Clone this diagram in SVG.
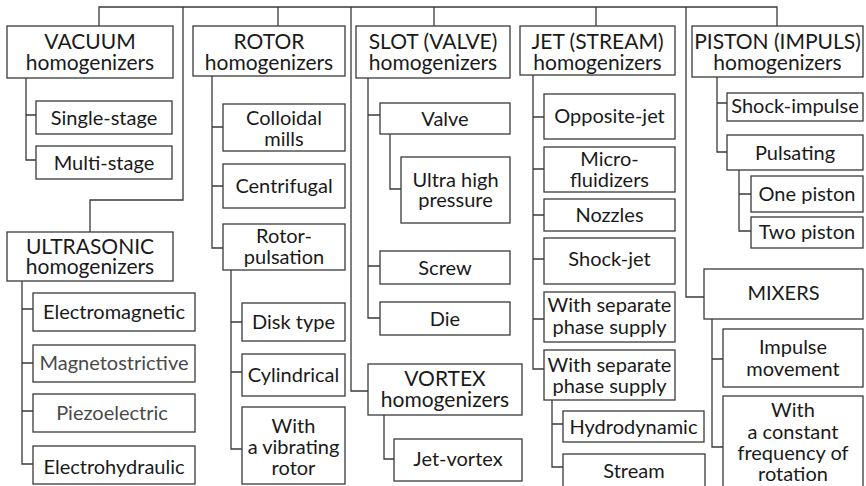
<svg xmlns="http://www.w3.org/2000/svg" width="866" height="486" viewBox="0 0 866 486">
<style>
rect{fill:#fff;stroke:#3a3a3a;stroke-width:1.3}
.c path{fill:none;stroke:#3a3a3a;stroke-width:1.3}
text{font-family:Lato,"Open Sans","Liberation Sans",sans-serif;font-size:20px;fill:#1a1a1a;text-anchor:middle}
.t text{font-size:21px}
.g{fill:#4a4a4a}
</style>
<rect x="0" y="0" width="866" height="486" style="stroke:none"/>
<g class="c">
<path d="M99,26V7H777V26"/>
<path d="M183,7V200H90V232"/>
<path d="M278,7V26"/>
<path d="M351,7V391H368"/>
<path d="M434,7V26"/>
<path d="M596,7V26"/>
<path d="M686,7V297H704"/>
<path d="M26,78V160H36M26,115H36"/>
<path d="M22,281V464H33M22,309H33M22,363H33M22,411H33"/>
<path d="M212,76V248H223M212,127H223M212,186H223"/>
<path d="M231,270V449H242M231,322H242M231,372H242"/>
<path d="M368,78V318H380M368,115H380M368,266H380"/>
<path d="M390,134V189H401"/>
<path d="M384,415V459H394"/>
<path d="M533,75V369H544M533,117H544M533,169H544M533,215H544M533,259H544M533,319H544"/>
<path d="M552,400V467H563M552,424H563"/>
<path d="M717,77V152H727M717,103H727"/>
<path d="M739,170V231H751M739,194H751"/>
<path d="M712,319V447H723M712,359H723"/>
</g>
<g id="vacuum" class="t"><rect x="7" y="26" width="166" height="52"/><text x="90" y="49">VACUUM</text><text x="90" y="70">homogenizers</text></g>
<g id="single-stage"><rect x="36" y="101" width="136" height="33"/><text x="104" y="125">Single-stage</text></g>
<g id="multi-stage"><rect x="36" y="146" width="136" height="33"/><text x="104" y="170">Multi-stage</text></g>
<g id="ultrasonic" class="t"><rect x="7" y="232" width="166" height="49"/><text x="90" y="254">ULTRASONIC</text><text x="90" y="274">homogenizers</text></g>
<g id="electromagnetic"><rect x="33" y="293" width="162" height="38"/><text x="114" y="319">Electromagnetic</text></g>
<g id="magnetostrictive"><rect x="33" y="345" width="162" height="37"/><text class="g" x="114" y="370">Magnetostrictive</text></g>
<g id="piezoelectric"><rect x="33" y="394" width="162" height="38"/><text class="g" x="112" y="420">Piezoelectric</text></g>
<g id="electrohydraulic"><rect x="33" y="446" width="162" height="38"/><text x="114" y="474">Electrohydraulic</text></g>
<g id="rotor" class="t"><rect x="193" y="26" width="152" height="50"/><text x="269" y="49">ROTOR</text><text x="269" y="70">homogenizers</text></g>
<g id="colloidal"><rect x="223" y="104" width="122" height="47"/><text x="284" y="125">Colloidal</text><text x="284" y="146">mills</text></g>
<g id="centrifugal"><rect x="223" y="164" width="122" height="44"/><text x="284" y="193">Centrifugal</text></g>
<g id="rotor-pulsation"><rect x="223" y="224" width="122" height="46"/><text x="284" y="243">Rotor-</text><text x="284" y="264">pulsation</text></g>
<g id="disk"><rect x="242" y="303" width="103" height="38"/><text x="293.5" y="329">Disk type</text></g>
<g id="cylindrical"><rect x="242" y="354" width="103" height="42"/><text x="293.5" y="382">Cylindrical</text></g>
<g id="vibrating"><rect x="242" y="407" width="103" height="77"/><text x="293.5" y="433">With</text><text x="293.5" y="454">a vibrating</text><text x="293.5" y="475">rotor</text></g>
<g id="slot" class="t"><rect x="356" y="26" width="154" height="52"/><text x="433" y="49">SLOT (VALVE)</text><text x="433" y="70">homogenizers</text></g>
<g id="valve"><rect x="380" y="103" width="130" height="31"/><text x="445" y="126">Valve</text></g>
<g id="ultra"><rect x="401" y="157" width="109" height="66"/><text x="455.5" y="187">Ultra high</text><text x="455.5" y="207">pressure</text></g>
<g id="screw"><rect x="380" y="251" width="130" height="33"/><text x="445" y="275">Screw</text></g>
<g id="die"><rect x="380" y="302" width="130" height="33"/><text x="445" y="326">Die</text></g>
<g id="vortex" class="t"><rect x="368" y="364" width="154" height="51"/><text x="445" y="386">VORTEX</text><text x="445" y="407">homogenizers</text></g>
<g id="jet-vortex"><rect x="394" y="439" width="128" height="42"/><text x="458" y="466">Jet-vortex</text></g>
<g id="jet" class="t"><rect x="520" y="26" width="155" height="49"/><text x="597.5" y="49">JET (STREAM)</text><text x="597.5" y="70">homogenizers</text></g>
<g id="opposite"><rect x="544" y="94" width="131" height="45"/><text x="609.5" y="123">Opposite-jet</text></g>
<g id="micro"><rect x="544" y="147" width="131" height="45"/><text x="609.5" y="166">Micro-</text><text x="609.5" y="187">fluidizers</text></g>
<g id="nozzles"><rect x="544" y="199" width="131" height="32"/><text x="609.5" y="222">Nozzles</text></g>
<g id="shock-jet"><rect x="544" y="238" width="131" height="46"/><text x="609.5" y="266">Shock-jet</text></g>
<g id="separate1"><rect x="544" y="292" width="131" height="50"/><text x="609.5" y="312">With separate</text><text x="609.5" y="334">phase supply</text></g>
<g id="separate2"><rect x="544" y="350" width="131" height="50"/><text x="609.5" y="372">With separate</text><text x="609.5" y="393">phase supply</text></g>
<g id="hydrodynamic"><rect x="563" y="411" width="141" height="31"/><text x="633.5" y="434">Hydrodynamic</text></g>
<g id="stream"><rect x="563" y="454" width="142" height="34"/><text x="634" y="478">Stream</text></g>
<g id="piston" class="t"><rect x="692" y="26" width="171" height="51"/><text x="777.5" y="49">PISTON (IMPULS)</text><text x="777.5" y="70">homogenizers</text></g>
<g id="shock-impulse"><rect x="727" y="93" width="136" height="28"/><text x="795" y="113">Shock-impulse</text></g>
<g id="pulsating"><rect x="727" y="135" width="136" height="35"/><text x="795" y="160">Pulsating</text></g>
<g id="one-piston"><rect x="751" y="176" width="112" height="36"/><text x="807" y="201">One piston</text></g>
<g id="two-piston"><rect x="751" y="217" width="112" height="31"/><text x="807" y="239">Two piston</text></g>
<g id="mixers"><rect x="704" y="269" width="159" height="50"/><text x="783.5" y="300">MIXERS</text></g>
<g id="impulse"><rect x="723" y="329" width="140" height="58"/><text x="793" y="354">Impulse</text><text x="793" y="376">movement</text></g>
<g id="constant"><rect x="723" y="396" width="140" height="92"/><text x="793" y="417">With</text><text x="793" y="439">a constant</text><text x="793" y="460">frequency of</text><text x="793" y="481">rotation</text></g>
</svg>
